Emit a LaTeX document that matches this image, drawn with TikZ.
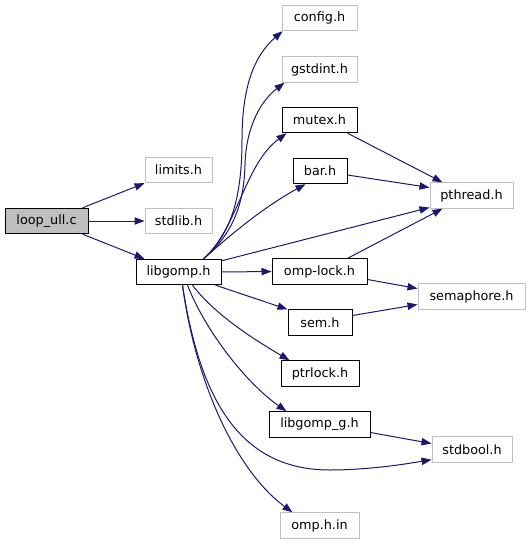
\documentclass[tikz,border=0pt]{standalone}
\usepackage{fontspec}
\setmainfont{DejaVu Sans}
\usetikzlibrary{arrows.meta,calc}
\definecolor{edgeblue}{HTML}{191970}
\definecolor{greyline}{HTML}{BFBFBF}
\definecolor{greyfill}{HTML}{BFBFBF}
\begin{document}
\begin{tikzpicture}[x=0.75pt,y=-0.75pt,
  box/.style={draw=black,line width=0.75pt,inner sep=0pt,minimum height=19pt,
    font=\fontsize{9.6}{11}\selectfont,minimum width=#1*0.75pt},
  gbox/.style={box=#1,draw=greyline},
  e/.style={draw=edgeblue,line width=0.75pt,-{Triangle[length=7.5pt,width=5.5pt]}}]
\useasboundingbox (0,0) rectangle (531,544);
% nodes
\node[box=83,fill=greyfill] (loop) at (46.5,221) {loop\_ull.c};
\node[gbox=67] (limits) at (178.5,170) {limits.h};
\node[gbox=67] (stdlib) at (178.5,221) {stdlib.h};
\node[box=85] (lib) at (178.5,272) {libgomp.h};
\node[gbox=75] (config) at (319.5,18) {config.h};
\node[gbox=75] (gstdint) at (319.5,69.5) {gstdint.h};
\node[box=75] (mutex) at (319.5,120) {mutex.h};
\node[box=54] (bar) at (320,171) {bar.h};
\node[gbox=83] (pthread) at (471.5,195.5) {pthread.h};
\node[box=95] (olock) at (319.5,271.5) {omp-lock.h};
\node[gbox=107] (sema) at (471.5,296.5) {semaphore.h};
\node[box=64] (sem) at (320,322.5) {sem.h};
\node[box=78] (ptrlock) at (320,373.5) {ptrlock.h};
\node[box=101] (lgg) at (319.5,424.5) {libgomp\_g.h};
\node[gbox=80] (stdbool) at (472,449.5) {stdbool.h};
\node[gbox=79] (omph) at (319.5,525.5) {omp.h.in};
% edges from loop_ull.c
\draw[e] ($(loop.north east)+(-6,0)$) -- (limits.south west);
\draw[e] (loop.east) -- (stdlib.west);
\draw[e] ($(loop.south east)+(-6,0)$) -- ($(lib.north west)+(9,0)$);
% top bundle from libgomp.h
\draw[e] ($(lib.north)+(25,0)$) .. controls (230,235) and (242,200) .. (242,140)
   .. controls (242,85) and (255,55) .. ($(config.south west)+(1,0)$);
\draw[e] ($(lib.north)+(25,0)$) .. controls (232,235) and (244,205) .. (245,165)
   .. controls (246,125) and (262,100) .. ($(gstdint.south west)+(3,0)$);
\draw[e] ($(lib.north)+(25,0)$) .. controls (238,228) and (244,165) .. ($(mutex.south west)+(5,0)$);
\draw[e] ($(lib.north)+(25,0)$) .. controls (228,237) and (262,208) .. ($(bar.south west)+(13,0)$);
\draw[e] ($(lib.north east)+(0,2)$) -- ($(pthread.west)+(0,12)$);
\draw[e] (lib.east) -- (olock.west);
% bottom bundle from libgomp.h
\draw[e] ($(lib.south east)+(-6,0)$) -- (sem.north west);
\draw[e] ($(lib.south)+(14,0)$) .. controls (215,315) and (255,340) .. ($(ptrlock.north west)+(9,0)$);
\draw[e] ($(lib.south)+(9,0)$) .. controls (205,330) and (245,382) .. ($(lgg.north west)+(18,0)$);
\draw[e] ($(lib.south)+(4,0)$) .. controls (200,400) and (240,470) .. (330,470)
   .. controls (365,470) and (400,465) .. ($(stdbool.south west)+(0,-3)$);
\draw[e] ($(lib.south)+(4,0)$) .. controls (195,380) and (235,470) .. ($(omph.north west)+(13,0)$);
% other edges
\draw[e] ($(mutex.south east)+(-10,0)$) -- ($(pthread.north west)+(13,0)$);
\draw[e] ($(bar.east)+(0,4)$) -- ($(pthread.west)+(0,-8)$);
\draw[e] ($(olock.north east)+(-20,0)$) -- ($(pthread.south west)+(13,0)$);
\draw[e] ($(olock.east)+(0,8)$) -- ($(sema.west)+(0,-8)$);
\draw[e] ($(sem.east)+(0,-7)$) -- ($(sema.west)+(0,8)$);
\draw[e] ($(lgg.east)+(0,8)$) -- ($(stdbool.west)+(0,-6)$);
\end{tikzpicture}
\end{document}
